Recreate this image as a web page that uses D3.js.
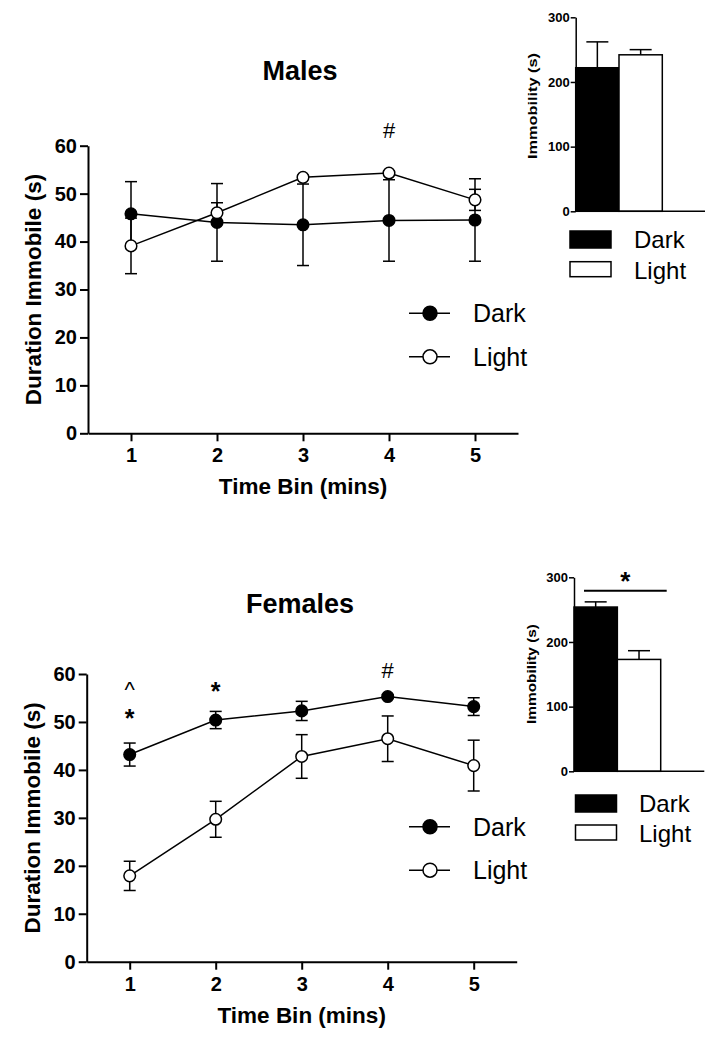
<!DOCTYPE html>
<html><head><meta charset="utf-8">
<script src="https://cdn.jsdelivr.net/npm/d3@7"></script>
<style>
html,body{margin:0;padding:0;background:#fff;}
svg{display:block;font-family:"Liberation Sans",Arial,Helvetica,sans-serif;}
</style></head>
<body>
<svg id="chart" width="711" height="1050"></svg>
<script>
// ---- data ----
const timeBins = [1, 2, 3, 4, 5];
const yTicks = [0, 10, 20, 30, 40, 50, 60];
const barTicks = [0, 100, 200, 300];
const groups = ["Dark", "Light"];

const maleDark = [45.8, 44.0, 43.5, 44.4, 44.5];
const maleDarkErr = [6.7, 8.1, 8.5, 8.5, 8.6];
const maleLight = [39.1, 46.0, 53.4, 54.3, 48.7];
const maleLightErr = [5.8, 2.1, 0.4, 0.4, 2.2];

const femaleDark = [43.2, 50.4, 52.3, 55.3, 53.2];
const femaleDarkErr = [2.4, 1.8, 2.0, 0.4, 1.85];
const femaleLight = [17.9, 29.7, 42.8, 46.5, 40.9];
const femaleLightErr = [3.05, 3.75, 4.55, 4.75, 5.3];

const maleBars = [222, 242];
const maleBarErr = [40, 8];
const femaleBars = [254, 173];
const femaleBarErr = [8, 13.5];

const svg = d3.select("#chart");
const FONT = "'Liberation Sans',Arial,sans-serif";

function linePanel(o) {
  const g = svg.append("g");
  const x = d3.scaleLinear().domain([0.5, 5.5]).range([o.x0, o.x1]);
  const y = d3.scaleLinear().domain([0, 60]).range([o.yb, o.yt]);

  // axes
  const ya = g.append("g").attr("transform", `translate(${o.x0},0)`)
    .call(d3.axisLeft(y).tickValues(yTicks).tickFormat(d3.format("d")).tickSize(8).tickSizeOuter(0).tickPadding(3));
  const xa = g.append("g").attr("transform", `translate(0,${o.yb})`)
    .call(d3.axisBottom(x).tickValues(timeBins).tickFormat(d3.format("d")).tickSize(8).tickSizeOuter(0).tickPadding(7));
  [ya, xa].forEach(a => {
    a.select(".domain").attr("stroke", "#000").attr("stroke-width", 2);
    a.selectAll(".tick line").attr("stroke", "#000").attr("stroke-width", 2);
    a.selectAll(".tick text").attr("fill", "#000").attr("font-family", FONT)
      .attr("font-size", 20).attr("font-weight", "bold");
  });

  // axis titles
  g.append("text").attr("transform", `translate(${o.ylabX},${(o.yb + o.yt) / 2}) rotate(-90)`)
    .attr("text-anchor", "middle").attr("dy", "0.35em")
    .attr("font-size", 22.5).attr("font-weight", "bold").text("Duration Immobile (s)");
  g.append("text").attr("x", (o.x0 + o.x1) / 2).attr("y", o.yb + 61)
    .attr("text-anchor", "middle").attr("font-size", 22.5).attr("font-weight", "bold")
    .text("Time Bin (mins)");
  g.append("text").attr("x", 300).attr("y", o.titleY).attr("text-anchor", "middle")
    .attr("font-size", 27).attr("font-weight", "bold").text(o.title);

  const series = [
    {vals: o.dark, err: o.darkErr, fill: "#000"},
    {vals: o.light, err: o.lightErr, fill: "#fff"}
  ];
  const line = d3.line().x((d, i) => x(timeBins[i])).y(d => y(d));
  series.forEach(s => {
    g.append("path").datum(s.vals).attr("d", line).attr("fill", "none")
      .attr("stroke", "#000").attr("stroke-width", 1.5);
  });
  series.forEach(s => {
    const eb = g.append("g").attr("stroke", "#000").attr("stroke-width", 1.5);
    s.vals.forEach((v, i) => {
      const cx = x(timeBins[i]);
      const hi = y(v + s.err[i]), lo = y(v - s.err[i]);
      eb.append("line").attr("x1", cx).attr("x2", cx).attr("y1", hi).attr("y2", lo);
      eb.append("line").attr("x1", cx - 6).attr("x2", cx + 6).attr("y1", hi).attr("y2", hi);
      eb.append("line").attr("x1", cx - 6).attr("x2", cx + 6).attr("y1", lo).attr("y2", lo);
    });
  });
  series.forEach(s => {
    g.append("g").selectAll("circle").data(s.vals).join("circle")
      .attr("cx", (d, i) => x(timeBins[i])).attr("cy", d => y(d)).attr("r", 5.8)
      .attr("fill", s.fill).attr("stroke", "#000").attr("stroke-width", 1.5);
  });

  // legend
  const leg = [{name: "Dark", fill: "#000", y: o.legY}, {name: "Light", fill: "#fff", y: o.legY + 43.5}];
  leg.forEach(l => {
    g.append("line").attr("x1", 409).attr("x2", 450).attr("y1", l.y).attr("y2", l.y)
      .attr("stroke", "#000").attr("stroke-width", 1.5);
    g.append("circle").attr("cx", 430).attr("cy", l.y).attr("r", 7)
      .attr("fill", l.fill).attr("stroke", "#000").attr("stroke-width", 1.5);
    g.append("text").attr("x", 473).attr("y", l.y).attr("dy", "0.36em")
      .attr("font-size", 25).text(l.name);
  });

  // annotations
  o.notes.forEach(n => {
    g.append("text").attr("x", x(n.bin)).attr("y", n.y).attr("text-anchor", "middle")
      .attr("font-size", n.size || 22).attr("font-weight", n.bold ? "bold" : "normal").text(n.t);
  });
  return {x, y};
}

function barPanel(o) {
  const g = svg.append("g");
  const x = d3.scaleBand().domain(groups).range([o.x0, o.xBarEnd]).padding(0);
  const y = d3.scaleLinear().domain([0, 300]).range([o.yb, o.yt]);

  // error bars (upper only)
  o.vals.forEach((v, i) => {
    const cx = x(groups[i]) + x.bandwidth() / 2;
    g.append("line").attr("x1", cx).attr("x2", cx).attr("y1", y(v)).attr("y2", y(v + o.err[i]))
      .attr("stroke", "#000").attr("stroke-width", 1.5);
    g.append("line").attr("x1", cx - 11).attr("x2", cx + 11).attr("y1", y(v + o.err[i])).attr("y2", y(v + o.err[i]))
      .attr("stroke", "#000").attr("stroke-width", 1.5);
  });
  g.selectAll("rect.bar").data(o.vals).join("rect").attr("class", "bar")
    .attr("x", (d, i) => x(groups[i])).attr("width", x.bandwidth())
    .attr("y", d => y(d)).attr("height", d => o.yb - y(d))
    .attr("fill", (d, i) => i === 0 ? "#000" : "#fff")
    .attr("stroke", "#000").attr("stroke-width", 1.5);

  const ya = g.append("g").attr("transform", `translate(${o.x0},0)`)
    .call(d3.axisLeft(y).tickValues(barTicks).tickSize(5).tickSizeOuter(0).tickPadding(1));
  ya.select(".domain").attr("stroke", "#000").attr("stroke-width", 1.5);
  ya.selectAll(".tick line").attr("stroke", "#000").attr("stroke-width", 1.5);
  ya.selectAll(".tick text").attr("fill", "#000").attr("font-family", FONT)
    .attr("font-size", 13).attr("font-weight", "bold");
  g.append("line").attr("x1", o.x0).attr("x2", o.xAxisEnd).attr("y1", o.yb).attr("y2", o.yb)
    .attr("stroke", "#000").attr("stroke-width", 1.5);

  g.append("text").attr("transform", `translate(${o.labX},${o.labY}) rotate(-90)`)
    .attr("text-anchor", "middle").attr("dy", "0.35em")
    .attr("font-size", 12).attr("font-weight", "bold")
    .attr("textLength", o.labLen).attr("lengthAdjust", "spacingAndGlyphs")
    .text("Immobility (s)");

  if (o.sig) {
    const a = x(groups[0]) + 10, b = x(groups[1]) + x.bandwidth() + 6;
    g.append("line").attr("x1", a).attr("x2", b).attr("y1", o.sig.y).attr("y2", o.sig.y)
      .attr("stroke", "#000").attr("stroke-width", 2);
    g.append("text").attr("x", (a + b) / 2).attr("y", o.sig.y - 1).attr("text-anchor", "middle")
      .attr("font-size", 26).attr("font-weight", "bold").text("*");
  }

  // legend
  groups.forEach((name, i) => {
    const ry = o.legY + i * o.legStep;
    g.append("rect").attr("x", o.legX).attr("y", ry).attr("width", 41).attr("height", i === 0 ? 17 : 15)
      .attr("fill", i === 0 ? "#000" : "#fff").attr("stroke", "#000").attr("stroke-width", 1.5);
    g.append("text").attr("x", o.legTextX).attr("y", ry + 17).attr("font-size", 24).text(name);
  });
}

linePanel({
  x0: 88, x1: 518, yb: 433.3, yt: 145.7, ylabX: 33, title: "Males", titleY: 80,
  dark: maleDark, darkErr: maleDarkErr, light: maleLight, lightErr: maleLightErr,
  legY: 313.3,
  notes: [{bin: 4, y: 137.5, t: "#"}]
});
linePanel({
  x0: 86.7, x1: 516.7, yb: 961.7, yt: 674, ylabX: 32, title: "Females", titleY: 612.5,
  dark: femaleDark, darkErr: femaleDarkErr, light: femaleLight, lightErr: femaleLightErr,
  legY: 826.7,
  notes: [{bin: 4, y: 678, t: "#"}, {bin: 1, y: 697, t: "^"}, {bin: 1, y: 727, t: "*", size: 25, bold: true},
          {bin: 2, y: 700, t: "*", size: 25, bold: true}]
});

barPanel({
  x0: 575.7, xBarEnd: 662.3, xAxisEnd: 705, yb: 211.3, yt: 17.3,
  vals: maleBars, err: maleBarErr, labX: 532.7, labY: 106, labLen: 106,
  legX: 570, legY: 231, legStep: 30.7, legTextX: 634
});
barPanel({
  x0: 574, xBarEnd: 660.7, xAxisEnd: 704.3, yb: 771.3, yt: 577.3,
  vals: femaleBars, err: femaleBarErr, labX: 532, labY: 674, labLen: 100,
  legX: 575.5, legY: 795, legStep: 30, legTextX: 639,
  sig: {y: 590.7}
});
</script>
</body></html>
